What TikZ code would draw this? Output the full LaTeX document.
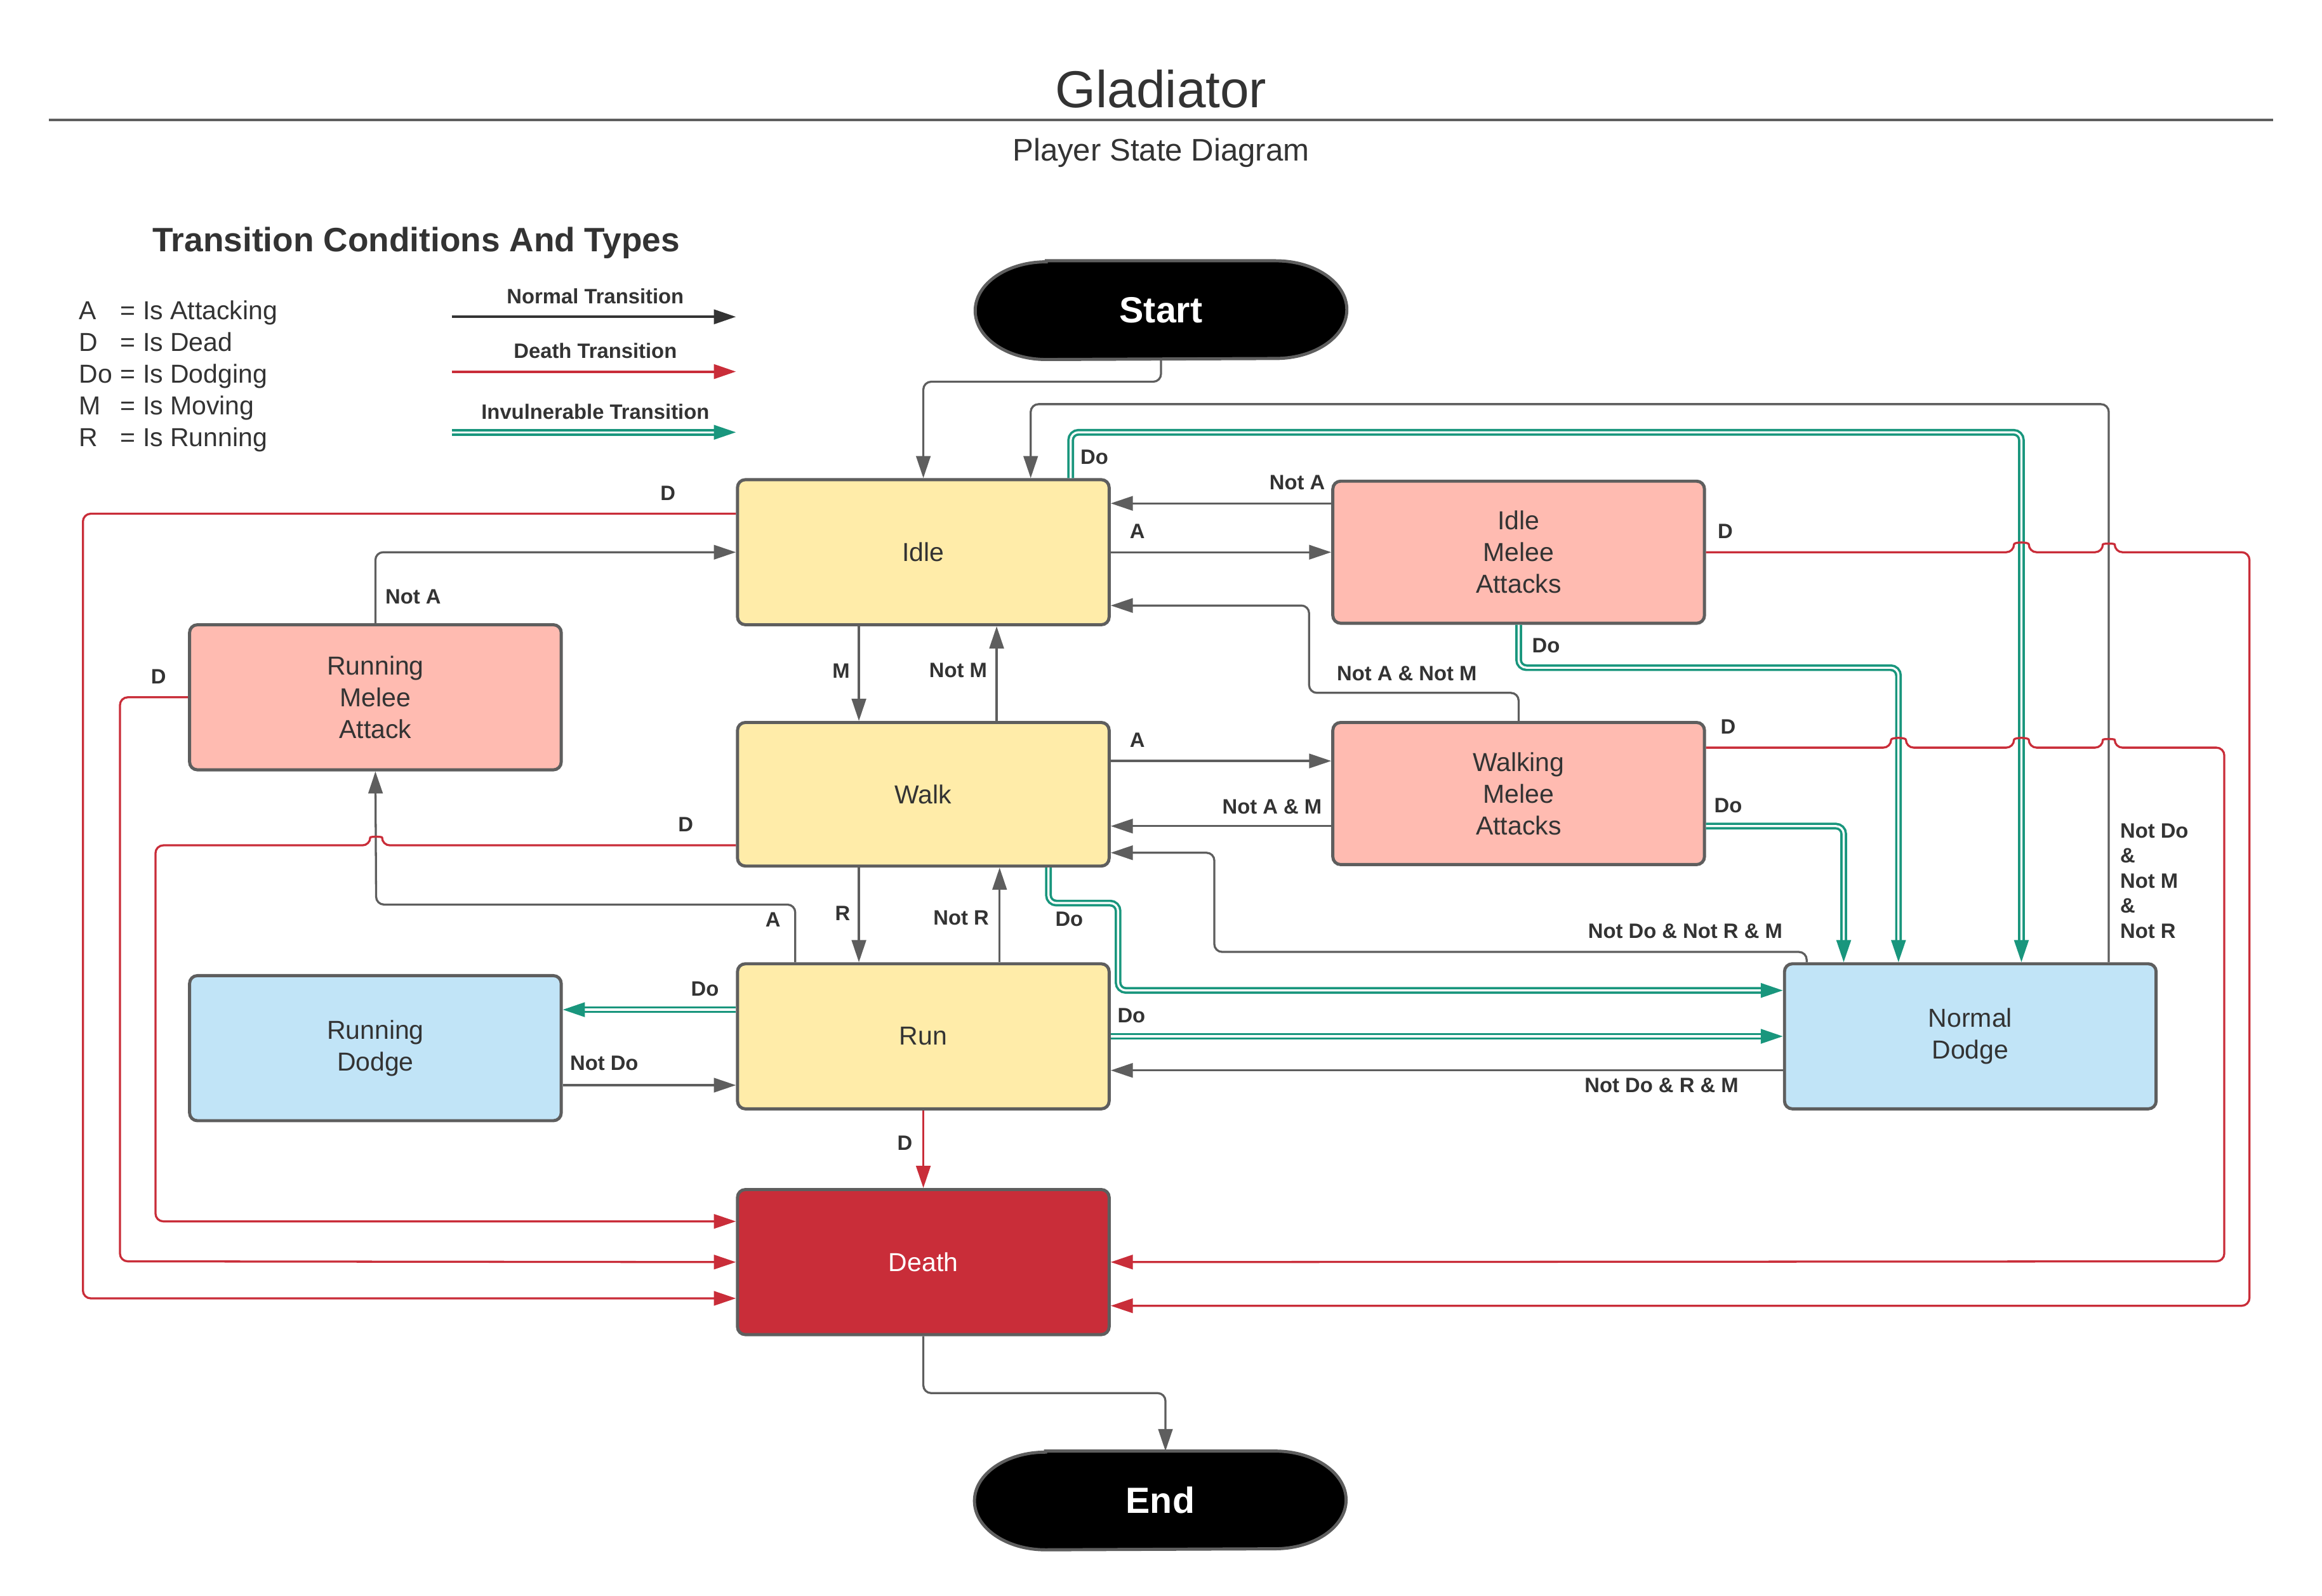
\documentclass[tikz,border=0pt]{standalone}
\usepackage{fontspec}
\setmainfont{Liberation Sans}
\usetikzlibrary{arrows.meta,backgrounds}

\definecolor{ink}{HTML}{333333}
\definecolor{frame}{HTML}{5E5E5E}
\definecolor{walkfill}{HTML}{FFECA9}
\definecolor{attackfill}{HTML}{FFBBB1}
\definecolor{dodgefill}{HTML}{C1E4F7}
\definecolor{deathred}{HTML}{C92D39}
\definecolor{dodgeteal}{HTML}{19967D}

\newcommand{\condkey}[2]{\makebox[0.56cm][l]{#1}= #2}

\begin{document}
\begin{tikzpicture}[x=0.02cm, y=-0.02cm,
  font=\fontsize{10}{12.2}\selectfont, text=ink,
  stbox/.style={draw=frame, line width=1.2pt, rounded corners=3pt,
    minimum width=5.02cm, minimum height=1.96cm, align=center},
  termbox/.style={minimum width=5.02cm, minimum height=1.32cm, text=white,
    font=\fontsize{14}{17}\selectfont\bfseries},
  termshape/.style={draw=frame, fill=black, line width=1.2pt},
  lbl/.style={font=\fontsize{8}{9.6}\selectfont\bfseries, text=ink, inner sep=0pt},
  trans/.style={draw=frame, line width=0.8pt, rounded corners=3pt,
    -{Triangle[length=8.5pt,width=5.5pt]}},
  death/.style={trans, draw=deathred},
  invul/.style={trans, draw=dodgeteal, line width=0.9pt, double=white, double distance=0.8pt}
  ]
  \useasboundingbox (0,0) rectangle (1568,1078);

  % heading
  \node[font=\fontsize{20}{24}\selectfont] (title) at (784,60) {Gladiator};
  \draw[frame, line width=1.1pt] (33,81) -- (1535,81);
  \node[font=\fontsize{12}{14.4}\selectfont] (subtitle) at (784,103) {Player State Diagram};

  % legend
  \node[font=\fontsize{13}{15.6}\selectfont\bfseries] (legend) at (281,164) {Transition Conditions And Types};
  \node[anchor=west, align=left, inner sep=0pt] (keys) at (53,254)
    {\condkey{A}{Is Attacking}\\\condkey{D}{Is Dead}\\\condkey{Do}{Is Dodging}\\
     \condkey{M}{Is Moving}\\\condkey{R}{Is Running}};
  \coordinate (normal a) at (305,214);  \coordinate (normal b) at (497,214);
  \coordinate (death a) at (305,251);   \coordinate (death b) at (497,251);
  \coordinate (invul a) at (305,292);   \coordinate (invul b) at (497,292);
  \draw[trans, draw=ink, line width=1pt, rounded corners=0pt] (normal a) -- (normal b)
    node[lbl] at (402,200) {Normal Transition};
  \draw[death, line width=1pt] (death a) -- (death b)
    node[lbl] at (402,237) {Death Transition};
  \draw[invul] (invul a) -- (invul b)
    node[lbl] at (402,278) {Invulnerable Transition};

  % states
  \node[termbox] (start) at (784,209.5) {Start};
  \node[stbox, fill=walkfill] (idle) at (623.5,373) {Idle};
  \node[stbox, fill=attackfill, minimum height=1.92cm] (ima) at (1025.5,373) {Idle\\Melee\\Attacks};
  \node[stbox, fill=attackfill] (rma) at (253.5,471) {Running\\Melee\\Attack};
  \node[stbox, fill=walkfill, minimum height=1.94cm] (walk) at (623.5,536.5) {Walk};
  \node[stbox, fill=attackfill, minimum height=1.92cm] (wma) at (1025.5,536) {Walking\\Melee\\Attacks};
  \node[stbox, fill=dodgefill] (rdodge) at (253.5,708) {Running\\Dodge};
  \node[stbox, fill=walkfill] (run) at (623.5,700) {Run};
  \node[stbox, fill=dodgefill] (ndodge) at (1330.5,700) {Normal\\Dodge};
  \node[stbox, fill=deathred, text=white] (death) at (623.5,852.5) {Death};
  \node[termbox] (end) at (783.5,1013.5) {End};

  \begin{scope}[on background layer]
    \filldraw[termshape] ([xshift=-1.55cm]start.north) -- ([xshift=1.55cm]start.north)
      arc[start angle=90, end angle=-90, x radius=0.96cm, y radius=0.66cm]
      -- ([xshift=-1.55cm]start.south)
      arc[start angle=270, end angle=90, x radius=0.96cm, y radius=0.66cm] -- cycle;
    \filldraw[termshape] ([xshift=-1.55cm]end.north) -- ([xshift=1.55cm]end.north)
      arc[start angle=90, end angle=-90, x radius=0.96cm, y radius=0.66cm]
      -- ([xshift=-1.55cm]end.south)
      arc[start angle=270, end angle=90, x radius=0.96cm, y radius=0.66cm] -- cycle;
  \end{scope}

  % normal transitions
  \draw[trans] (start.south) -- ++(0,15) -| (idle.north);
  \draw[trans] (1424,0 |- ndodge.north) |- (696,273) -- (696,0 |- idle.north)
    node[lbl, anchor=west, align=left, font=\fontsize{8}{9.64}\selectfont\bfseries] at (1431,595)
    {Not Do\\\&\\Not M\\\&\\Not R};
  \draw[trans] (ima.west |- 0,340) -- (idle.east |- 0,340) node[lbl] at (876,326) {Not A};
  \draw[trans] (idle) -- (ima) node[lbl] at (768,359) {A};
  \draw[trans] (wma.north) |- (884,468) |- (idle.east |- 0,409) node[lbl] at (950,455) {Not A \& Not M};
  \draw[trans] (580,0 |- idle.south) -- (580,0 |- walk.north) node[lbl] at (568,453) {M};
  \draw[trans] (673,0 |- walk.north) -- (673,0 |- idle.south) node[lbl] at (647,453) {Not M};
  \draw[trans] (rma.north) |- (idle.west) node[lbl] at (279,403) {Not A};
  \draw[trans] (walk.east |- 0,514) -- (wma.west |- 0,514) node[lbl] at (768,500) {A};
  \draw[trans] (wma.west |- 0,558) -- (walk.east |- 0,558) node[lbl] at (859,545) {Not A \& M};
  \draw[trans] (1220,0 |- ndodge.north) |- (820,643) |- (walk.east |- 0,576)
    node[lbl] at (1138,629) {Not Do \& Not R \& M};
  \draw[trans] (580,0 |- walk.south) -- (580,0 |- run.north) node[lbl] at (569,617) {R};
  \draw[trans] (675,0 |- run.north) -- (675,0 |- walk.south) node[lbl] at (649,620) {Not R};
  \draw[trans] (537,0 |- run.north) |- (254,611) -- (rma.south) node[lbl] at (522,621) {A};
  \draw[trans] (rdodge.east |- 0,733) -- (run.west |- 0,733) node[lbl] at (408,718) {Not Do};
  \draw[trans] (ndodge.west |- 0,723) -- (run.east |- 0,723) node[lbl] at (1122,733) {Not Do \& R \& M};
  \draw[trans] (death.south) |- (787,941) -- (787,0 |- end.north);

  % invulnerable transitions
  \draw[invul] (723,0 |- idle.north) |- (1365,292) -- (1365,0 |- ndodge.north) node[lbl] at (739,309) {Do};
  \draw[invul] (ima.south) |- (1282,451) -- (1282,0 |- ndodge.north) node[lbl] at (1044,436) {Do};
  \draw[invul] (wma.east |- 0,558) -| (1245,0 |- ndodge.north) node[lbl] at (1167,544) {Do};
  \draw[invul] (708,0 |- walk.south) |- (755,610) |- (ndodge.west |- 0,669) node[lbl] at (722,621) {Do};
  \draw[invul] (run.west |- 0,682) -- (rdodge.east |- 0,682) node[lbl] at (476,668) {Do};
  \draw[invul] (run) -- (ndodge) node[lbl] at (764,686) {Do};

  % death transitions
  \draw[death] (ima.east) -- (1360,373) .. controls (1360,366) and (1370,366) .. (1370,373)
    -- (1420,373) .. controls (1420,367) and (1428,367) .. (1428,373)
    -| (1519,882) -- (death.east |- 0,882) node[lbl] at (1165,359) {D};
  \draw[death] (wma.east |- 0,505) -- (1277,505) .. controls (1277,498) and (1287,498) .. (1287,505)
    -- (1360,505) .. controls (1360,498) and (1370,498) .. (1370,505)
    -- (1420,505) .. controls (1420,499) and (1428,499) .. (1428,505)
    -| (1502,852) -- (death.east) node[lbl] at (1167,491) {D};
  \draw[death] (idle.west |- 0,347) -| (56,877) -- (death.west |- 0,877) node[lbl] at (451,333) {D};
  \draw[death] (rma.west) -| (81,852) -- (death.west) node[lbl] at (107,457) {D};
  \draw[death] (walk.west |- 0,571) -- (258,571) .. controls (258,565) and (250,565) .. (250,571)
    -| (105,825) -- (death.west |- 0,825) node[lbl] at (463,557) {D};
  \draw[death] (run) -- (death) node[lbl] at (611,772) {D};
\end{tikzpicture}
\end{document}
